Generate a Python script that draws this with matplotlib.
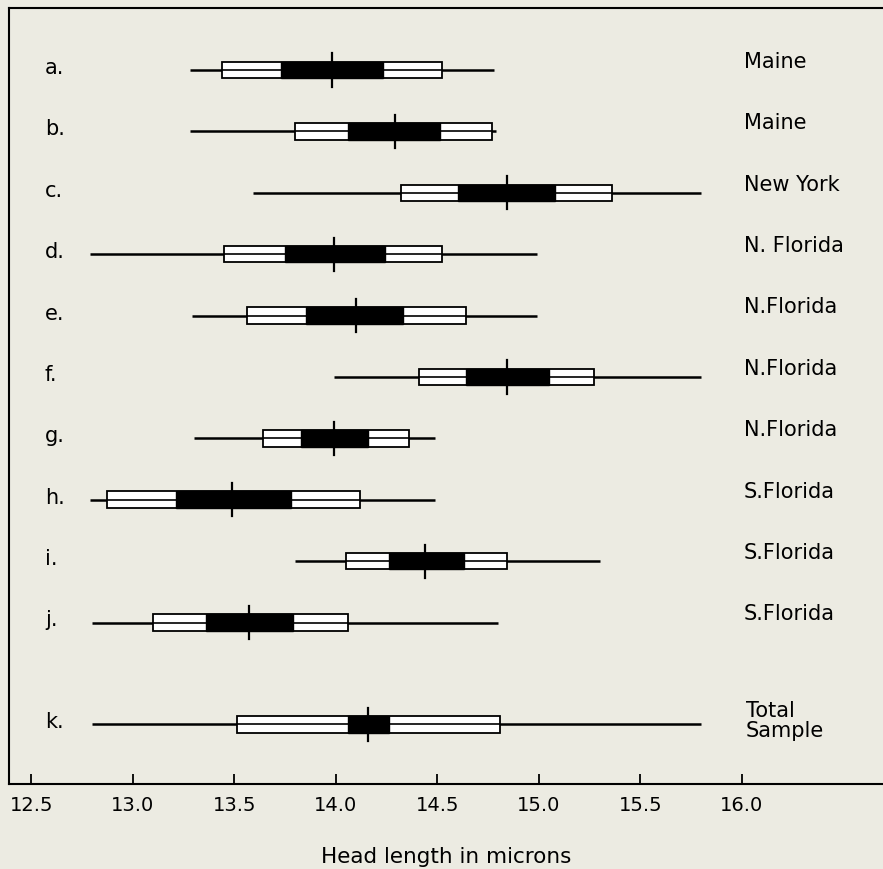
import matplotlib
matplotlib.use("Agg")
import matplotlib.pyplot as plt
from matplotlib.patches import Rectangle

letters = ["a.", "b.", "c.", "d.", "e.", "f.", "g.", "h.", "i.", "j.", "k."]
regions = ["Maine", "Maine", "New York", "N. Florida", "N.Florida", "N.Florida",
           "N.Florida", "S.Florida", "S.Florida", "S.Florida", "Total\nSample"]
range_min = [13.28, 13.28, 13.59, 12.79, 13.29, 13.99, 13.30, 12.79, 13.80, 12.80, 12.80]
range_max = [14.78, 14.79, 15.80, 14.99, 14.99, 15.80, 14.49, 14.49, 15.30, 14.80, 15.80]
sd_low = [13.44, 13.80, 14.32, 13.45, 13.56, 14.41, 13.64, 12.87, 14.05, 13.10, 13.51]
sd_high = [14.52, 14.77, 15.36, 14.52, 14.64, 15.27, 14.36, 14.12, 14.84, 14.06, 14.81]
ci_low = [13.73, 14.06, 14.60, 13.75, 13.85, 14.64, 13.83, 13.21, 14.26, 13.36, 14.06]
ci_high = [14.23, 14.51, 15.08, 14.24, 14.33, 15.05, 14.16, 13.78, 14.63, 13.79, 14.26]
means = [13.98, 14.29, 14.84, 13.99, 14.10, 14.84, 13.99, 13.49, 14.44, 13.57, 14.16]
row_pos = [0, 1, 2, 3, 4, 5, 6, 7, 8, 9, 10.66]
xticks = [12.5, 13.0, 13.5, 14.0, 14.5, 15.0, 15.5, 16.0]
xtick_labels = ["12.5", "13.0", "13.5", "14.0", "14.5", "15.0", "15.5", "16.0"]
xlabel = "Head length in microns"

bg = "#ecebe2"
plt.rcParams['font.family'] = ['DejaVu Sans']

fig = plt.figure(figsize=(8.83, 8.70), dpi=100, facecolor=bg)
ax = fig.add_axes([9 / 883, 1 - 785 / 870, 1 - 9 / 883, (785 - 9) / 870])
ax.set_facecolor(bg)
ax.set_xlim(12.5 + (9 - 31.5) / 203, 12.5 + (883 - 31.5) / 203)
ax.set_ylim(11.63, -1.01)

bh = 0.27
th = 0.54
for i, y in enumerate(row_pos):
    ax.plot([range_min[i], range_max[i]], [y, y], color="black", lw=1.8, zorder=1,
            solid_capstyle="butt")
    ax.add_patch(Rectangle((sd_low[i], y - bh / 2), sd_high[i] - sd_low[i], bh,
                           facecolor="white", edgecolor="black", lw=1.3, zorder=2))
    ax.plot([sd_low[i], sd_high[i]], [y, y], color="black", lw=1.2, zorder=3,
            solid_capstyle="butt")
    ax.add_patch(Rectangle((ci_low[i], y - bh / 2), ci_high[i] - ci_low[i], bh,
                           facecolor="black", edgecolor="black", lw=1.0, zorder=4))
    ax.plot([means[i], means[i]], [y - th / 2, y + th / 2], color="black", lw=1.6, zorder=5)
    ax.text(12.566, y - 0.05, letters[i], ha="left", va="center", fontsize=15, color="black")
    if "\n" in regions[i]:
        ax.text(16.02, y - 0.08, regions[i], ha="left", va="center", fontsize=15,
                color="black", linespacing=1.0)
    else:
        ax.text(16.01, y - 0.15, regions[i], ha="left", va="center", fontsize=15, color="black")

ax.set_xticks(xticks)
ax.set_xticklabels(xtick_labels, fontsize=14)
ax.set_yticks([])
ax.tick_params(axis="x", direction="in", length=7.5, width=1.3, pad=8, colors="black")
for s in ["left", "top", "bottom"]:
    ax.spines[s].set_linewidth(1.5)
    ax.spines[s].set_color("black")
ax.spines["right"].set_visible(False)

fig.text(446 / 883, 1 - 857 / 870, xlabel, ha="center", va="center", fontsize=15.5, color="black")

fig.savefig("out.png", dpi=100, facecolor=bg)
